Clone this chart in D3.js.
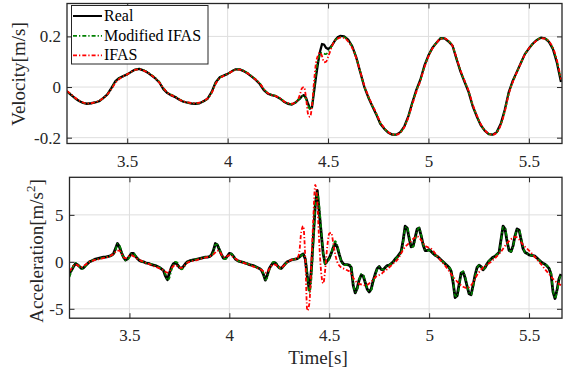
<!DOCTYPE html>
<html>
<head>
<meta charset="utf-8">
<script src="https://cdn.jsdelivr.net/npm/d3@7"></script>
<style>
html, body { margin: 0; padding: 0; background: #ffffff; }
svg { display: block; font-family: "Liberation Serif", "Times New Roman", serif; }
</style>
</head>
<body>
<svg id="chart" width="563" height="374"></svg>
<script>
// ---- Sample times (s) for the velocity traces ----
const tVel = [
  3.20,3.22,3.24,3.26,3.28,3.30,3.32,3.34,3.36,3.38,
  3.40,3.42,3.44,3.46,3.48,3.50,3.52,3.54,3.56,3.58,
  3.60,3.62,3.64,3.66,3.68,3.70,3.72,3.74,3.76,3.78,
  3.80,3.82,3.84,3.86,3.88,3.90,3.92,3.94,3.96,3.98,
  4.00,4.02,4.04,4.06,4.08,4.10,4.12,4.14,4.16,4.18,
  4.20,4.22,4.24,4.26,4.28,4.30,4.32,4.34,
  4.35,4.36,4.37,4.38,4.39,4.40,4.41,4.42,4.43,4.44,4.45,
  4.46,4.47,4.48,4.49,4.50,4.51,4.52,4.53,4.54,4.55,4.56,
  4.58,4.60,4.62,4.64,4.66,4.68,4.70,4.72,4.74,4.76,
  4.78,4.80,4.82,4.84,4.86,4.88,4.90,4.92,4.94,4.96,
  4.98,5.00,5.02,5.04,5.06,5.08,5.10,5.12,5.14,5.16,
  5.18,5.20,5.22,5.24,5.26,5.28,5.30,5.32,5.34,5.36,
  5.38,5.40,5.42,5.44,5.46,5.48,5.50,5.52,5.54,5.56,
  5.58,5.60,5.62,5.64,5.66
];

// ---- Velocity (m/s) ----
const velReal = [
  -0.018,-0.031,-0.044,-0.055,-0.063,-0.066,-0.064,-0.061,-0.056,-0.044,
  -0.030,-0.005,0.022,0.036,0.043,0.050,0.060,0.069,0.072,0.066,
  0.058,0.046,0.034,0.018,-0.008,-0.024,-0.033,-0.040,-0.050,-0.058,
  -0.062,-0.065,-0.066,-0.064,-0.056,-0.046,-0.020,0.018,0.038,0.045,
  0.052,0.062,0.070,0.070,0.063,0.053,0.041,0.028,0.012,-0.012,
  -0.026,-0.032,-0.036,-0.045,-0.058,-0.066,-0.069,-0.060,
  -0.052,-0.046,-0.036,-0.032,-0.042,-0.065,-0.085,-0.080,-0.020,0.040,0.095,
  0.140,0.170,0.168,0.155,0.150,0.155,0.165,0.178,0.190,0.198,0.202,
  0.200,0.187,0.162,0.118,0.060,0.002,-0.040,-0.075,-0.108,-0.145,
  -0.165,-0.180,-0.188,-0.188,-0.178,-0.155,-0.115,-0.060,-0.010,0.030,
  0.085,0.125,0.155,0.175,0.193,0.192,0.180,0.163,0.110,0.060,
  0.020,-0.020,-0.075,-0.115,-0.150,-0.172,-0.186,-0.188,-0.178,-0.145,
  -0.090,-0.020,0.025,0.060,0.095,0.130,0.152,0.172,0.186,0.195,
  0.192,0.178,0.150,0.095,0.020
];
const velModified = [
  -0.016,-0.030,-0.043,-0.054,-0.062,-0.065,-0.064,-0.060,-0.055,-0.044,
  -0.030,-0.008,0.018,0.034,0.042,0.050,0.060,0.068,0.071,0.067,
  0.059,0.048,0.036,0.020,-0.004,-0.022,-0.031,-0.038,-0.048,-0.057,
  -0.062,-0.064,-0.065,-0.063,-0.056,-0.046,-0.022,0.015,0.036,0.045,
  0.052,0.061,0.069,0.070,0.064,0.055,0.043,0.030,0.015,-0.008,
  -0.024,-0.031,-0.035,-0.044,-0.057,-0.065,-0.067,-0.060,
  -0.052,-0.044,-0.036,-0.036,-0.048,-0.070,-0.088,-0.075,-0.010,0.060,0.105,
  0.128,0.135,0.132,0.130,0.138,0.150,0.165,0.178,0.188,0.194,0.198,
  0.197,0.184,0.160,0.118,0.062,0.004,-0.038,-0.073,-0.106,-0.142,
  -0.164,-0.179,-0.187,-0.188,-0.179,-0.156,-0.117,-0.063,-0.013,0.028,
  0.082,0.123,0.154,0.175,0.192,0.192,0.181,0.163,0.112,0.062,
  0.022,-0.018,-0.072,-0.113,-0.148,-0.171,-0.185,-0.188,-0.179,-0.147,
  -0.093,-0.024,0.022,0.059,0.095,0.129,0.152,0.171,0.185,0.194,
  0.192,0.179,0.152,0.100,0.025
];
const velIFAS = [
  -0.015,-0.028,-0.042,-0.053,-0.061,-0.065,-0.064,-0.060,-0.054,-0.044,
  -0.030,-0.010,0.015,0.032,0.042,0.050,0.060,0.068,0.070,0.066,
  0.058,0.047,0.034,0.018,-0.004,-0.022,-0.032,-0.040,-0.049,-0.057,
  -0.061,-0.063,-0.064,-0.062,-0.055,-0.045,-0.024,0.012,0.034,0.044,
  0.052,0.061,0.068,0.069,0.063,0.054,0.042,0.029,0.014,-0.008,
  -0.024,-0.032,-0.036,-0.044,-0.056,-0.064,-0.066,-0.058,
  -0.050,-0.030,-0.005,0.000,-0.040,-0.105,-0.118,-0.075,0.020,0.095,0.125,
  0.136,0.122,0.098,0.100,0.118,0.140,0.162,0.180,0.188,0.192,0.195,
  0.194,0.180,0.155,0.115,0.062,0.008,-0.035,-0.070,-0.103,-0.138,
  -0.162,-0.178,-0.187,-0.188,-0.180,-0.158,-0.120,-0.068,-0.018,0.025,
  0.078,0.120,0.152,0.174,0.190,0.192,0.182,0.162,0.115,0.065,
  0.025,-0.015,-0.068,-0.110,-0.146,-0.170,-0.184,-0.188,-0.180,-0.150,
  -0.098,-0.028,0.020,0.058,0.094,0.128,0.152,0.170,0.184,0.192,
  0.191,0.180,0.155,0.105,0.030
];

// ---- Sample times (s) for the acceleration traces ----
const tAcc = [
  3.20,3.21,3.22,3.23,3.24,3.25,3.26,3.27,3.28,3.29,
  3.30,3.31,3.32,3.33,3.34,3.35,3.36,3.37,3.38,3.39,
  3.40,3.41,3.42,3.43,3.44,3.45,3.46,3.47,3.48,3.49,
  3.50,3.51,3.52,3.53,3.54,3.55,3.56,3.57,3.58,3.59,
  3.60,3.61,3.62,3.63,3.64,3.65,3.66,3.67,3.68,3.69,
  3.70,3.71,3.72,3.73,3.74,3.75,3.76,3.77,3.78,3.79,
  3.80,3.81,3.82,3.83,3.84,3.85,3.86,3.87,3.88,3.89,
  3.90,3.91,3.92,3.93,3.94,3.95,3.96,3.97,3.98,3.99,
  4.00,4.01,4.02,4.03,4.04,4.05,4.06,4.07,4.08,4.09,
  4.10,4.11,4.12,4.13,4.14,4.15,4.16,4.17,4.18,4.19,
  4.20,4.21,4.22,4.23,4.24,4.25,4.26,4.27,4.28,4.29,
  4.30,4.31,4.32,4.33,4.34,4.35,4.36,4.37,4.38,4.39,
  4.40,4.41,4.42,4.43,4.44,4.45,4.46,4.47,4.48,4.49,
  4.50,4.51,4.52,4.53,4.54,4.55,4.56,4.57,4.58,4.59,
  4.60,4.61,4.62,4.63,4.64,4.65,4.66,4.67,4.68,4.69,
  4.70,4.71,4.72,4.73,4.74,4.75,4.76,4.77,4.78,4.79,
  4.80,4.81,4.82,4.83,4.84,4.85,4.86,4.87,4.88,4.89,
  4.90,4.91,4.92,4.93,4.94,4.95,4.96,4.97,4.98,4.99,
  5.00,5.01,5.02,5.03,5.04,5.05,5.06,5.07,5.08,5.09,
  5.10,5.11,5.12,5.13,5.14,5.15,5.16,5.17,5.18,5.19,
  5.20,5.21,5.22,5.23,5.24,5.25,5.26,5.27,5.28,5.29,
  5.30,5.31,5.32,5.33,5.34,5.35,5.36,5.37,5.38,5.39,
  5.40,5.41,5.42,5.43,5.44,5.45,5.46,5.47,5.48,5.49,
  5.50,5.51,5.52,5.53,5.54,5.55,5.56,5.57,5.58,5.59,
  5.60,5.61,5.62,5.63,5.64,5.65,5.66
];

// ---- Acceleration (m/s^2) ----
const accReal = [
  -1.2,-0.9,-0.5,-0.2,-0.3,-0.5,-0.7,-0.65,-0.4,-0.2,
  0.0,0.1,0.2,0.3,0.35,0.4,0.45,0.5,0.5,0.55,
  0.6,0.7,0.85,1.4,1.95,1.6,1.0,0.5,0.2,0.3,
  0.6,0.9,0.9,0.6,0.35,0.15,0.05,0.0,-0.1,-0.15,
  -0.2,-0.3,-0.35,-0.4,-0.5,-0.6,-0.75,-0.9,-1.5,-1.9,
  -1.2,-0.6,-0.2,-0.1,-0.3,-0.6,-0.7,-0.5,-0.2,0.0,
  0.1,0.15,0.2,0.25,0.3,0.35,0.4,0.45,0.5,0.5,
  0.55,0.7,1.2,1.95,1.8,1.3,0.8,0.4,0.35,0.6,
  0.9,0.85,0.6,0.3,0.15,0.05,0.0,-0.05,-0.15,-0.2,
  -0.3,-0.35,-0.4,-0.5,-0.6,-0.7,-0.85,-1.3,-1.95,-1.4,
  -0.7,-0.35,-0.1,-0.1,-0.4,-0.65,-0.7,-0.45,-0.2,0.0,
  0.1,0.2,0.25,0.3,0.35,0.5,0.7,0.85,0.3,-1.5,
  -3.0,-1.0,2.5,6.0,7.6,5.3,3.0,0.8,-0.2,0.1,
  0.4,0.9,1.5,1.9,1.6,0.8,0.1,-0.2,-0.3,-0.3,
  -0.35,-0.6,-2.5,-3.3,-2.8,-1.9,-1.4,-1.5,-2.2,-2.9,
  -3.2,-2.9,-2.0,-1.3,-0.7,-0.5,-0.8,-0.85,-0.6,-0.4,
  -0.35,-0.2,0.0,0.3,0.5,0.8,1.1,2.3,3.8,3.6,
  2.5,1.6,1.7,2.6,3.5,3.6,2.8,1.8,1.2,1.2,
  1.3,1.1,0.9,0.7,0.6,0.4,0.2,0.0,-0.2,-0.4,
  -0.6,-1.0,-2.2,-3.8,-3.6,-2.4,-1.2,-1.1,-1.7,-2.6,
  -3.4,-3.5,-2.5,-1.4,-0.6,-0.35,-0.5,-0.85,-0.6,-0.2,
  0.1,0.3,0.5,0.6,0.8,1.0,2.4,3.8,3.5,2.2,
  1.2,1.1,1.7,2.8,3.5,3.4,2.4,1.4,1.0,0.9,
  0.75,0.7,0.65,0.6,0.4,0.2,0.0,-0.15,-0.25,-0.45,
  -0.7,-1.3,-3.2,-3.9,-3.0,-1.8,-1.3
];
const accModified = [
  -1.6,-1.0,-0.4,-0.1,-0.2,-0.5,-0.75,-0.7,-0.45,-0.2,
  0.0,0.1,0.2,0.25,0.3,0.35,0.4,0.45,0.5,0.55,
  0.6,0.7,0.8,1.2,1.9,1.75,1.1,0.5,0.15,0.2,
  0.5,0.85,0.9,0.65,0.4,0.2,0.05,0.0,-0.1,-0.15,
  -0.2,-0.25,-0.3,-0.4,-0.5,-0.6,-0.7,-0.9,-1.3,-1.95,
  -1.7,-0.9,-0.3,0.0,-0.1,-0.5,-0.8,-0.65,-0.3,-0.05,
  0.1,0.15,0.2,0.25,0.3,0.35,0.4,0.45,0.5,0.5,
  0.55,0.65,1.0,1.8,1.85,1.4,0.85,0.4,0.3,0.5,
  0.85,0.85,0.65,0.35,0.15,0.05,0.0,-0.05,-0.15,-0.2,
  -0.3,-0.35,-0.4,-0.5,-0.6,-0.7,-0.8,-1.2,-1.9,-1.7,
  -0.9,-0.35,0.0,0.0,-0.3,-0.65,-0.75,-0.5,-0.25,0.0,
  0.1,0.2,0.25,0.3,0.35,0.45,0.65,0.8,0.5,-1.2,
  -3.3,-2.0,1.8,5.8,7.45,6.0,3.4,1.0,-0.3,0.0,
  0.3,0.9,1.7,2.2,1.8,0.9,0.1,-0.3,-0.35,-0.3,
  -0.3,-0.5,-2.2,-3.2,-2.9,-1.9,-1.3,-1.4,-2.1,-2.8,
  -3.1,-3.0,-2.2,-1.4,-0.8,-0.55,-0.75,-0.85,-0.65,-0.45,
  -0.35,-0.2,0.0,0.25,0.5,0.75,1.0,2.1,3.6,3.7,
  2.7,1.7,1.6,2.4,3.3,3.6,2.9,1.9,1.3,1.2,
  1.25,1.1,0.9,0.7,0.6,0.4,0.2,0.0,-0.2,-0.4,
  -0.6,-0.9,-2.0,-3.6,-3.7,-2.6,-1.3,-1.0,-1.6,-2.5,
  -3.3,-3.5,-2.7,-1.5,-0.7,-0.35,-0.45,-0.8,-0.65,-0.25,
  0.1,0.3,0.45,0.6,0.8,1.0,2.2,3.7,3.6,2.4,
  1.3,1.1,1.6,2.7,3.4,3.4,2.6,1.6,1.0,0.9,
  0.75,0.7,0.65,0.55,0.4,0.2,0.0,-0.15,-0.25,-0.4,
  -0.65,-1.2,-3.0,-3.9,-3.2,-2.0,-1.3
];
const accIFAS = [
  -1.0,-0.7,-0.4,-0.3,-0.35,-0.5,-0.55,-0.45,-0.3,-0.15,
  0.0,0.1,0.15,0.2,0.25,0.3,0.35,0.4,0.45,0.5,
  0.6,0.7,0.85,1.05,1.2,1.2,0.9,0.5,0.4,0.5,
  0.65,0.7,0.6,0.45,0.3,0.2,0.1,0.0,-0.1,-0.2,
  -0.25,-0.35,-0.45,-0.5,-0.6,-0.7,-0.8,-0.9,-1.05,-1.15,
  -1.0,-0.7,-0.45,-0.35,-0.45,-0.6,-0.65,-0.5,-0.3,-0.1,
  0.0,0.05,0.1,0.15,0.2,0.3,0.35,0.4,0.45,0.5,
  0.55,0.65,0.8,1.0,1.2,1.1,0.8,0.5,0.5,0.6,
  0.7,0.65,0.5,0.35,0.2,0.1,0.0,-0.1,-0.15,-0.25,
  -0.3,-0.4,-0.5,-0.55,-0.65,-0.75,-0.85,-1.0,-1.15,-1.1,
  -0.75,-0.45,-0.3,-0.3,-0.45,-0.6,-0.6,-0.45,-0.25,-0.05,
  0.1,0.2,0.25,0.3,0.4,1.0,3.2,3.8,0.5,-5.2,
  -4.5,-0.5,4.5,8.2,6.5,2.0,-1.2,-2.3,-0.8,1.6,
  3.0,3.1,2.0,0.8,0.0,-0.4,-0.6,-0.7,-0.8,-0.9,
  -1.0,-1.3,-1.7,-2.0,-2.2,-2.35,-2.4,-2.45,-2.5,-2.45,
  -2.3,-2.1,-1.9,-1.65,-1.5,-1.4,-1.3,-1.1,-0.95,-0.8,
  -0.6,-0.4,-0.2,0.0,0.2,0.5,0.9,1.3,1.6,1.8,
  2.0,2.2,2.45,2.6,2.7,2.6,2.3,2.0,1.7,1.6,
  1.5,1.4,1.2,0.9,0.6,0.35,0.1,-0.15,-0.4,-0.7,
  -1.0,-1.3,-1.6,-1.85,-2.1,-2.3,-2.5,-2.65,-2.75,-2.8,
  -2.7,-2.5,-2.2,-1.8,-1.4,-1.1,-0.85,-0.6,-0.45,-0.3,
  -0.15,0.0,0.2,0.4,0.6,0.85,1.1,1.4,1.7,2.0,
  2.2,2.4,2.55,2.65,2.6,2.4,2.1,1.8,1.6,1.4,
  1.2,1.0,0.75,0.5,0.25,0.0,-0.25,-0.5,-0.8,-1.05,
  -1.3,-1.55,-1.8,-2.0,-2.2,-2.35,-2.5
];

// ---- Axis ticks ----
const timeTicks = [3.5, 4, 4.5, 5, 5.5];
const velTicks = [-0.2, 0, 0.2];
const accTicks = [-5, 0, 5];

// ---- Legend entries ----
const seriesNames = ["Real", "Modified IFAS", "IFAS"];

const styles = {
  "Real":          { color: "#000000", width: 2.0, dash: null },
  "Modified IFAS": { color: "#008000", width: 1.8, dash: "4,2,1.3,2" },
  "IFAS":          { color: "#ff0000", width: 1.8, dash: "4,2,1.3,2" }
};

const svg = d3.select("#chart");
const axisColor = "#262626";
const gridColor = "#dedede";
const fmt = d => String(d);

function drawPanel(cfg) {
  const { id, left, right, top, bottom, xDomain, yDomain, yTicks, t, series, realWidth } = cfg;
  const x = d3.scaleLinear().domain(xDomain).range([left, right]);
  const y = d3.scaleLinear().domain(yDomain).range([bottom, top]);
  const g = svg.append("g");

  // clip region for the traces
  svg.append("defs").append("clipPath").attr("id", id)
    .append("rect").attr("x", left).attr("y", top)
    .attr("width", right - left).attr("height", bottom - top);

  // grid
  g.append("g").selectAll("line").data(timeTicks).join("line")
    .attr("x1", d => x(d)).attr("x2", d => x(d))
    .attr("y1", top).attr("y2", bottom)
    .attr("stroke", gridColor).attr("stroke-width", 1);
  g.append("g").selectAll("line").data(yTicks).join("line")
    .attr("x1", left).attr("x2", right)
    .attr("y1", d => y(d)).attr("y2", d => y(d))
    .attr("stroke", gridColor).attr("stroke-width", 1);

  // traces
  const traces = g.append("g").attr("clip-path", `url(#${id})`);
  series.forEach(s => {
    const st = styles[s.name];
    const pts = t.map((ti, i) => [ti, s.values[i]]);
    const line = d3.line()
      .defined(d => d[1] != null && !isNaN(d[1]))
      .x(d => x(d[0])).y(d => y(d[1]))
      .curve(s.name === "Real" ? d3.curveLinear : d3.curveMonotoneX);
    traces.append("path")
      .attr("d", line(pts))
      .attr("fill", "none")
      .attr("stroke", st.color)
      .attr("stroke-width", s.name === "Real" ? realWidth : st.width)
      .attr("stroke-linejoin", "round")
      .attr("stroke-dasharray", st.dash);
  });

  // axes with inward ticks on all four sides
  const styleAxis = sel => {
    sel.select(".domain").remove();
    sel.selectAll(".tick line").attr("stroke", axisColor).attr("stroke-width", 1);
    sel.selectAll(".tick text").attr("fill", axisColor)
      .attr("font-size", 17).attr("font-family", "Liberation Serif, Times New Roman, serif");
  };
  g.append("g").attr("transform", `translate(0,${bottom})`)
    .call(d3.axisBottom(x).tickValues(timeTicks).tickFormat(fmt).tickSizeInner(-5).tickSizeOuter(0).tickPadding(11))
    .call(styleAxis);
  g.append("g").attr("transform", `translate(0,${top})`)
    .call(d3.axisTop(x).tickValues(timeTicks).tickFormat("").tickSizeInner(-5).tickSizeOuter(0))
    .call(styleAxis);
  g.append("g").attr("transform", `translate(${left},0)`)
    .call(d3.axisLeft(y).tickValues(yTicks).tickFormat(fmt).tickSizeInner(-5).tickSizeOuter(0).tickPadding(6))
    .call(styleAxis);
  g.append("g").attr("transform", `translate(${right},0)`)
    .call(d3.axisRight(y).tickValues(yTicks).tickFormat("").tickSizeInner(-5).tickSizeOuter(0))
    .call(styleAxis);

  // box
  g.append("rect")
    .attr("x", left).attr("y", top)
    .attr("width", right - left).attr("height", bottom - top)
    .attr("fill", "none").attr("stroke", axisColor).attr("stroke-width", 1.3);

  return { x, y, g };
}

// ---- Velocity panel ----
const velPanel = drawPanel({
  id: "clipVel", left: 67, right: 562, top: 3.5, bottom: 143.5,
  xDomain: [3.2, 5.665], yDomain: [-0.223, 0.33], yTicks: velTicks,
  t: tVel, realWidth: 2.3,
  series: [
    { name: "Real", values: velReal },
    { name: "Modified IFAS", values: velModified },
    { name: "IFAS", values: velIFAS }
  ]
});

// ---- Acceleration panel ----
const accPanel = drawPanel({
  id: "clipAcc", left: 69.5, right: 562, top: 177.3, bottom: 318.2,
  xDomain: [3.2, 5.665], yDomain: [-6, 9], yTicks: accTicks,
  t: tAcc, realWidth: 2.8,
  series: [
    { name: "Real", values: accReal },
    { name: "Modified IFAS", values: accModified },
    { name: "IFAS", values: accIFAS }
  ]
});

// ---- Axis titles ----
svg.append("text")
  .attr("transform", "translate(24.5,74) rotate(-90)")
  .attr("text-anchor", "middle")
  .attr("font-size", 19).attr("fill", axisColor)
  .text("Velocity[m/s]");

const accLabel = svg.append("text")
  .attr("transform", "translate(43,251) rotate(-90)")
  .attr("text-anchor", "middle")
  .attr("font-size", 19).attr("fill", axisColor);
accLabel.append("tspan").text("Acceleration[m/s");
accLabel.append("tspan").attr("font-size", 13).attr("dy", -8).text("2");
accLabel.append("tspan").attr("dy", 8).text("]");

svg.append("text")
  .attr("x", 318).attr("y", 363.5)
  .attr("text-anchor", "middle")
  .attr("font-size", 19).attr("fill", axisColor)
  .text("Time[s]");

// ---- Legend ----
const legend = svg.append("g");
legend.append("rect")
  .attr("x", 71.5).attr("y", 5.5).attr("width", 136.5).attr("height", 58.5)
  .attr("fill", "#ffffff").attr("stroke", axisColor).attr("stroke-width", 1);
const rowY = [16, 35.8, 55.3];
seriesNames.forEach((name, i) => {
  const st = styles[name];
  legend.append("line")
    .attr("x1", 73).attr("x2", 102).attr("y1", rowY[i]).attr("y2", rowY[i])
    .attr("stroke", st.color).attr("stroke-width", name === "Real" ? 2 : st.width)
    .attr("stroke-dasharray", st.dash);
  legend.append("text")
    .attr("x", 104).attr("y", rowY[i] + 5)
    .attr("font-size", 16).attr("fill", "#000000")
    .text(name);
});
</script>
</body>
</html>
